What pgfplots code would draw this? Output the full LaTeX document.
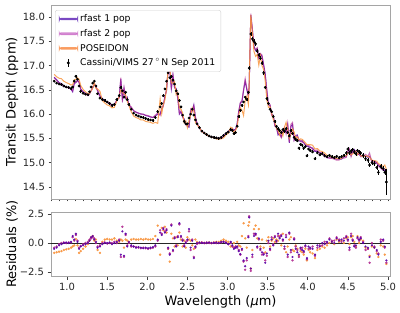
\documentclass[border=0pt]{standalone}
\usepackage{fontspec}
\setmainfont{DejaVu Sans}
\usepackage{pgfplots}
\usepackage{pgfplotstable}
\pgfplotsset{compat=1.18}

\definecolor{rfastone}{RGB}{92,1,166}
\definecolor{rfasttwo}{RGB}{177,42,144}
\definecolor{poseidon}{RGB}{248,149,64}
\definecolor{legone}{RGB}{112,60,190}
\definecolor{legtwo}{RGB}{198,96,194}
\definecolor{legpos}{RGB}{250,150,85}
\definecolor{spine}{RGB}{165,165,165}

% wl: wavelength (um); d: transit depth; e: 1-sigma error;
% r1, r2, rp: residuals (%) of rfast 1 pop, rfast 2 pop, POSEIDON;
% m1, m2, mp: the corresponding model spectra
\pgfplotstableread{
wl d e r1 r2 rp m1 m2 mp
0.84 16.68 0.025 -0.50 -0.40 -0.85 16.76 16.75 16.82
0.87 16.64 0.025 -0.40 -0.30 -0.80 16.71 16.69 16.77
0.90 16.62 0.025 -0.20 -0.10 -0.75 16.65 16.64 16.74
0.93 16.61 0.025 -0.10 0.00 -0.70 16.63 16.61 16.73
0.96 16.58 0.025 0.00 0.05 -0.60 16.58 16.57 16.68
0.99 16.56 0.025 0.05 0.00 -0.55 16.55 16.56 16.65
1.02 16.55 0.025 0.00 0.05 -0.50 16.55 16.54 16.63
1.05 16.53 0.025 0.10 0.05 -0.40 16.51 16.52 16.60
1.07 16.56 0.025 0.60 0.50 -0.30 16.46 16.48 16.61
1.09 16.68 0.025 0.30 0.20 -0.20 16.63 16.65 16.71
1.11 16.78 0.025 0.80 0.70 0.35 16.65 16.66 16.72
1.13 16.72 0.025 0.10 0.20 -0.20 16.70 16.69 16.75
1.15 16.58 0.025 -0.50 -0.40 -0.85 16.66 16.65 16.72
1.17 16.47 0.025 -0.30 -0.25 -0.70 16.52 16.51 16.59
1.20 16.43 0.025 -0.20 -0.10 -0.50 16.46 16.45 16.51
1.23 16.41 0.025 -0.10 0.00 -0.30 16.43 16.41 16.46
1.26 16.40 0.025 0.00 0.10 -0.10 16.40 16.38 16.42
1.28 16.46 0.025 0.20 0.30 0.20 16.43 16.41 16.43
1.30 16.56 0.025 0.50 0.40 0.50 16.48 16.49 16.48
1.32 16.64 0.025 0.60 0.50 0.60 16.54 16.56 16.54
1.34 16.68 0.025 0.30 0.40 0.20 16.63 16.61 16.65
1.36 16.58 0.025 0.10 0.00 0.30 16.56 16.58 16.53
1.38 16.42 0.025 -0.40 -0.30 -0.60 16.49 16.47 16.52
1.41 16.33 0.025 -0.30 -0.20 -0.85 16.38 16.36 16.47
1.44 16.30 0.025 -0.10 0.00 0.10 16.32 16.30 16.28
1.47 16.28 0.025 0.00 0.05 0.30 16.28 16.27 16.23
1.50 16.25 0.025 0.00 -0.05 0.35 16.25 16.26 16.19
1.53 16.22 0.025 0.05 0.00 0.30 16.21 16.22 16.17
1.56 16.18 0.025 -0.10 0.00 0.30 16.20 16.18 16.13
1.59 16.20 0.025 0.00 0.10 0.40 16.20 16.18 16.14
1.62 16.30 0.025 0.10 0.00 0.20 16.28 16.30 16.27
1.65 16.38 0.025 0.20 0.30 0.10 16.35 16.33 16.36
1.67 16.55 0.025 -1.00 -1.20 0.30 16.72 16.75 16.50
1.69 16.48 0.025 1.00 1.40 0.20 16.32 16.25 16.45
1.71 16.35 0.025 -1.10 -1.20 -0.40 16.53 16.55 16.42
1.73 16.45 0.025 0.80 0.70 0.30 16.32 16.33 16.40
1.75 16.30 0.025 -0.30 -0.20 0.20 16.35 16.33 16.27
1.77 16.20 0.025 0.10 0.00 0.10 16.18 16.20 16.18
1.80 16.10 0.025 -0.20 -0.30 0.30 16.13 16.15 16.05
1.83 16.02 0.025 -0.30 -0.30 0.35 16.07 16.07 15.96
1.86 15.98 0.025 -0.40 -0.35 0.30 16.04 16.04 15.93
1.89 15.96 0.025 -0.35 -0.40 0.30 16.02 16.02 15.91
1.92 15.94 0.025 -0.40 -0.45 0.35 16.00 16.01 15.88
1.95 15.93 0.025 -0.45 -0.40 0.30 16.00 15.99 15.88
1.98 15.91 0.025 -0.40 -0.45 0.35 15.97 15.98 15.85
2.01 15.89 0.025 -0.45 -0.50 0.30 15.96 15.97 15.84
2.04 15.88 0.025 -0.40 -0.45 0.30 15.94 15.95 15.83
2.07 15.87 0.025 -0.35 -0.40 0.35 15.93 15.93 15.81
2.10 15.93 0.025 -0.20 -0.30 0.60 15.96 15.98 15.83
2.13 16.05 0.025 0.30 0.20 1.50 16.00 16.02 15.81
2.16 16.15 0.025 0.90 1.10 -1.00 16.00 15.97 16.31
2.18 16.22 0.025 0.70 0.80 1.30 16.11 16.09 16.01
2.20 16.38 0.025 1.20 1.30 1.10 16.18 16.17 16.20
2.22 16.52 0.025 0.90 1.00 1.40 16.37 16.36 16.29
2.24 16.68 0.025 1.10 1.20 0.90 16.50 16.48 16.53
2.26 16.85 0.025 -0.40 -0.50 -0.50 16.92 16.93 16.93
2.28 16.75 0.025 -1.00 -0.90 -1.60 16.92 16.90 16.95
2.30 16.78 0.025 1.50 1.60 0.80 16.53 16.51 16.65
2.32 16.70 0.025 -0.60 -0.70 0.40 16.80 16.82 16.63
2.34 16.62 0.025 0.40 0.50 -0.30 16.55 16.54 16.67
2.36 16.48 0.025 -0.30 -0.20 0.50 16.53 16.51 16.40
2.38 16.42 0.025 0.50 0.60 -0.20 16.34 16.32 16.45
2.40 16.28 0.025 1.70 1.60 0.90 16.00 16.02 16.13
2.42 16.15 0.025 0.60 0.50 0.30 16.05 16.07 16.10
2.44 15.98 0.025 0.20 0.30 -0.30 15.95 15.93 16.03
2.46 15.85 0.025 -0.30 -0.20 0.20 15.90 15.88 15.82
2.48 15.80 0.025 0.00 0.10 -0.40 15.80 15.78 15.86
2.50 15.80 0.025 0.30 0.20 0.50 15.75 15.77 15.72
2.52 15.92 0.025 1.20 1.00 0.30 15.73 15.76 15.87
2.54 16.00 0.025 -0.40 -0.60 0.20 16.06 16.10 15.97
2.56 16.10 0.025 0.20 0.30 -0.20 16.07 16.05 16.13
2.58 15.98 0.025 -1.30 -1.20 -0.50 16.19 16.17 16.06
2.60 15.88 0.025 -0.30 -0.40 0.30 15.93 15.94 15.83
2.62 15.80 0.025 0.00 -0.10 0.10 15.80 15.82 15.78
2.65 15.72 0.025 0.05 0.00 0.00 15.71 15.72 15.72
2.68 15.65 0.025 0.00 0.05 0.05 15.65 15.64 15.64
2.71 15.61 0.025 0.00 0.00 0.00 15.61 15.61 15.61
2.74 15.58 0.025 0.00 0.05 0.00 15.58 15.57 15.58
2.77 15.55 0.025 0.05 0.00 0.05 15.54 15.55 15.54
2.80 15.53 0.025 0.00 0.00 0.00 15.53 15.53 15.53
2.83 15.52 0.025 0.00 0.05 0.05 15.52 15.51 15.51
2.86 15.51 0.025 0.05 0.00 0.10 15.50 15.51 15.49
2.89 15.50 0.025 0.00 0.00 0.10 15.50 15.50 15.48
2.92 15.52 0.025 0.10 0.05 0.20 15.50 15.51 15.49
2.95 15.56 0.025 0.10 0.10 0.30 15.54 15.54 15.51
2.98 15.60 0.025 0.00 0.05 0.20 15.60 15.59 15.57
3.01 15.63 0.025 -0.10 -0.10 0.10 15.65 15.65 15.61
3.04 15.68 0.025 0.10 0.00 -0.30 15.66 15.68 15.73
3.06 15.66 0.025 -0.20 -0.30 -0.30 15.69 15.71 15.71
3.08 15.60 0.025 -0.50 -0.40 0.00 15.68 15.66 15.60
3.10 15.62 0.025 -0.40 -0.30 -0.30 15.68 15.67 15.67
3.12 15.75 0.025 -0.30 -0.40 0.10 15.80 15.81 15.73
3.14 15.95 0.03 -0.70 -0.60 -0.20 16.06 16.05 15.98
3.16 16.08 0.03 -0.95 -1.00 -0.30 16.23 16.24 16.13
3.18 16.18 0.03 -0.50 -0.60 0.60 16.26 16.28 16.08
3.20 16.25 0.03 -1.50 -1.60 1.70 16.49 16.51 15.97
3.22 16.35 0.03 -2.00 -2.30 0.40 16.68 16.73 16.28
3.24 16.30 0.03 -1.30 -1.50 -0.40 16.51 16.54 16.37
3.26 16.45 0.03 0.50 0.60 1.50 16.37 16.35 16.20
3.27 16.95 0.04 2.20 2.30 1.80 16.58 16.56 16.64
3.29 17.65 0.04 -2.20 -2.40 -2.20 18.04 18.07 18.04
3.31 17.55 0.04 -1.00 -1.20 -0.60 17.73 17.76 17.66
3.33 17.50 0.04 0.60 0.80 1.20 17.40 17.36 17.29
3.35 17.45 0.04 0.80 0.70 1.50 17.31 17.33 17.19
3.37 17.30 0.04 -0.30 -0.40 0.40 17.35 17.37 17.23
3.39 17.22 0.04 0.40 0.30 1.20 17.15 17.17 17.01
3.41 17.15 0.04 -0.50 -0.60 -0.30 17.24 17.25 17.20
3.43 17.05 0.04 -0.80 -1.00 0.30 17.19 17.22 17.00
3.45 16.85 0.04 -1.00 -0.90 -0.40 17.02 17.00 16.92
3.47 16.55 0.04 -1.70 -1.50 -0.80 16.83 16.80 16.68
3.49 16.32 0.04 -0.90 -1.10 0.20 16.47 16.50 16.29
3.51 16.22 0.03 0.20 0.00 0.50 16.19 16.22 16.14
3.53 16.10 0.03 -0.50 -0.60 -0.30 16.18 16.20 16.15
3.55 16.05 0.03 0.30 0.50 0.20 16.00 15.97 16.02
3.57 15.95 0.03 -0.20 -0.10 0.40 15.98 15.97 15.89
3.59 15.85 0.03 0.50 0.60 0.10 15.77 15.75 15.83
3.61 15.75 0.03 0.20 0.10 0.30 15.72 15.73 15.70
3.63 15.70 0.03 0.80 0.60 0.20 15.57 15.61 15.67
3.65 15.66 0.03 0.40 0.50 0.60 15.60 15.58 15.57
3.67 15.62 0.03 0.60 0.70 -0.20 15.53 15.51 15.65
3.69 15.68 0.03 0.30 0.20 0.80 15.63 15.65 15.55
3.71 15.65 0.03 -0.30 -0.50 -0.50 15.70 15.73 15.73
3.73 15.70 0.03 0.50 0.70 -0.80 15.62 15.59 15.83
3.75 15.62 0.03 -1.00 -1.20 -0.30 15.78 15.81 15.67
3.77 15.55 0.03 0.90 0.80 0.30 15.41 15.43 15.50
3.79 15.66 0.03 -0.60 -0.80 0.50 15.75 15.79 15.58
3.81 15.60 0.03 -1.20 -1.50 -0.60 15.79 15.83 15.69
3.83 15.52 0.03 0.30 0.40 -0.70 15.47 15.46 15.63
3.85 15.48 0.03 -0.50 -0.30 -0.20 15.56 15.53 15.51
3.87 15.45 0.03 -0.80 -0.60 -0.50 15.57 15.54 15.53
3.89 15.30 0.03 -1.00 -1.20 -1.10 15.45 15.48 15.47
3.91 15.38 0.03 -0.40 -0.50 -0.70 15.44 15.46 15.49
3.93 15.36 0.03 -0.60 -0.40 -0.80 15.45 15.42 15.48
3.95 15.30 0.03 -0.70 -0.80 -1.00 15.41 15.42 15.45
3.97 15.33 0.03 -0.20 -0.30 -0.50 15.36 15.38 15.41
3.99 15.14 0.03 -1.30 -1.40 -1.50 15.34 15.35 15.37
4.01 15.28 0.03 -0.30 -0.50 -0.60 15.33 15.36 15.37
4.03 15.25 0.03 -0.40 -0.50 -0.80 15.31 15.33 15.37
4.06 15.22 0.03 -0.50 -0.30 -0.90 15.30 15.27 15.36
4.09 15.08 0.03 -1.00 -1.10 -1.30 15.23 15.25 15.28
4.12 15.20 0.03 -0.20 -0.40 -0.60 15.23 15.26 15.29
4.15 15.16 0.03 -0.30 -0.20 -0.50 15.21 15.19 15.24
4.18 15.18 0.03 0.00 -0.20 -0.30 15.18 15.21 15.23
4.21 15.14 0.03 -0.10 0.10 -0.40 15.16 15.12 15.20
4.24 15.12 0.03 0.10 0.00 -0.20 15.10 15.12 15.15
4.27 15.15 0.03 0.30 0.40 0.00 15.10 15.09 15.15
4.30 15.12 0.03 0.10 0.20 0.10 15.10 15.09 15.10
4.33 15.10 0.03 0.00 0.20 -0.10 15.10 15.07 15.12
4.36 15.13 0.03 0.40 0.50 0.30 15.07 15.05 15.08
4.39 15.10 0.03 0.20 0.30 0.10 15.07 15.05 15.08
4.42 15.12 0.03 0.30 0.10 0.20 15.07 15.10 15.09
4.45 15.15 0.03 0.20 0.40 0.00 15.12 15.09 15.15
4.48 15.20 0.04 0.50 0.60 0.40 15.12 15.11 15.14
4.50 15.28 0.04 0.30 0.20 0.50 15.23 15.25 15.20
4.52 15.20 0.04 -0.40 -0.60 -0.10 15.26 15.29 15.22
4.54 15.24 0.04 0.60 0.80 0.50 15.15 15.12 15.16
4.56 15.27 0.04 0.20 0.30 0.60 15.24 15.22 15.18
4.58 15.22 0.04 -0.30 -0.20 0.10 15.27 15.25 15.20
4.60 15.18 0.04 -0.20 -0.40 -0.30 15.21 15.24 15.23
4.62 15.25 0.04 0.50 0.40 0.60 15.17 15.19 15.16
4.64 15.22 0.04 0.30 0.20 0.00 15.17 15.19 15.22
4.66 15.20 0.04 0.40 0.50 0.30 15.14 15.12 15.15
4.69 15.15 0.05 0.00 0.10 0.20 15.15 15.13 15.12
4.72 15.08 0.05 -0.30 -0.60 -0.40 15.13 15.17 15.14
4.75 15.05 0.05 -0.40 -0.50 -0.50 15.11 15.13 15.13
4.77 14.95 0.05 -1.20 -1.70 -1.10 15.13 15.20 15.11
4.80 15.00 0.05 -0.20 0.00 -0.30 15.03 15.00 15.05
4.83 14.98 0.05 -0.40 -0.30 -0.40 15.04 15.02 15.04
4.86 14.90 0.05 -0.60 -0.70 -0.90 14.99 15.00 15.03
4.88 14.80 0.05 -1.00 -0.90 -1.20 14.95 14.93 14.98
4.91 14.92 0.05 0.10 0.30 -0.20 14.91 14.88 14.95
4.94 14.88 0.06 0.30 0.20 -0.30 14.84 14.85 14.92
4.96 14.80 0.06 -0.30 -0.40 -1.00 14.84 14.86 14.95
4.98 14.60 0.27 -1.50 -1.70 -1.80 14.82 14.85 14.86
}\spec

\pgfplotsset{
  panel/.style={
    scale only axis,
    width=339bp,
    xmin=0.80, xmax=5.025,
    axis line style={spine, line width=0.8pt},
    tick style={black!75, line width=0.6pt},
    tick align=outside,
    major tick length=3.5bp,
    xtick pos=bottom, ytick pos=left,
    tick label style={font=\fontsize{10}{12}\selectfont, text=black!85},
    label style={font=\fontsize{13}{15}\selectfont},
    ylabel style={at={(axis description cs:-0.115,0.5)}, anchor=center},
    clip=true,
  },
}

\begin{document}
\begin{tikzpicture}
\useasboundingbox (0,0) rectangle (400bp,313bp);

% spectrum and models
\begin{axis}[panel,
  name=top, at={(51bp,308bp)}, anchor=north west,
  height=194bp,
  ymin=14.25, ymax=18.25,
  ytick={14.5,15,15.5,16,16.5,17,17.5,18},
  yticklabels={14.5,15.0,15.5,16.0,16.5,17.0,17.5,18.0},
  xtick={0.8,0.9,...,5.01},
  xticklabels={},
  major tick length=2.5bp,
  ylabel={Transit Depth (ppm)},
  legend cell align=left,
  legend style={at={(axis description cs:0.012,0.974)}, anchor=north west,
    draw=black!18, rounded corners=2pt, fill=white,
    font=\fontsize{9.3}{11}\selectfont,
    inner xsep=3.5pt, inner ysep=2.5pt, row sep=2.2pt},
]
\addplot[rfastone, opacity=0.85, line width=1pt, no markers,
  legend image code/.code={
    \fill[legone] (0cm,-0.6pt) rectangle (0.65cm,0.6pt);}]
  table[x=wl, y=m1]{\spec};
\addlegendentry{rfast 1 pop}
\addplot[rfasttwo, opacity=0.65, line width=1pt, no markers,
  legend image code/.code={
    \fill[legtwo] (0cm,-0.9pt) rectangle (0.65cm,0.9pt);}]
  table[x=wl, y=m2]{\spec};
\addlegendentry{rfast 2 pop}
\addplot[poseidon, opacity=0.85, line width=1pt, no markers,
  legend image code/.code={
    \fill[legpos] (0cm,-0.7pt) rectangle (0.65cm,0.7pt);}]
  table[x=wl, y=mp]{\spec};
\addlegendentry{POSEIDON}
\addplot[only marks, black, mark=*, mark size=1.15bp,
  legend image code/.code={
    \draw[black, line width=0.6pt] (0.32cm,-0.14cm) -- (0.32cm,0.14cm);
    \fill[black] (0.32cm,0cm) circle (1.3pt);},
  error bars/.cd, y dir=both, y explicit,
  error bar style={black, line width=0.5pt}, error mark=none]
  table[x=wl, y=d, y error=e]{\spec};
\addlegendentry{Cassini/VIMS 27\,$^{\circ}$\,N Sep 2011}
\end{axis}

% residuals
\begin{axis}[panel,
  name=bot, at={(51bp,101bp)}, anchor=north west,
  height=64bp,
  ymin=-2.84, ymax=2.67,
  ytick={-2.5,0,2.5},
  yticklabels={−2.5,0.0,2.5},
  xtick={1,1.5,...,5.01},
  xticklabels={1.0,1.5,2.0,2.5,3.0,3.5,4.0,4.5,5.0},
  ylabel={Residuals (\%)},
  xlabel={Wavelength (\textit{μ}m)},
  xlabel style={at={(axis description cs:0.5,-0.41)}, anchor=center},
]
\addplot[black!85, line width=0.9pt, no markers]
  coordinates {(0.80,0) (5.025,0)};
\addplot[only marks, mark=*, mark size=1.0bp, poseidon, opacity=0.9]
  table[x=wl, y=rp]{\spec};
\addplot[only marks, mark=*, mark size=1.0bp, rfasttwo, opacity=0.85]
  table[x=wl, y=r2]{\spec};
\addplot[only marks, mark=*, mark size=0.9bp, rfastone, opacity=0.85]
  table[x=wl, y=r1]{\spec};
\end{axis}
\end{tikzpicture}
\end{document}
